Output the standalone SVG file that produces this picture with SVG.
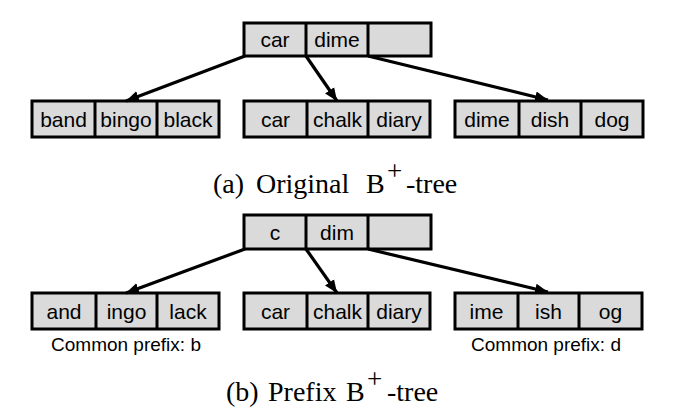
<svg xmlns="http://www.w3.org/2000/svg" width="676" height="418" viewBox="0 0 676 418">
<style>
.cell{fill:#dadada;stroke:#000;stroke-width:3}
.div{stroke:#000;stroke-width:3}
.t{font-family:"Liberation Sans",Arial,sans-serif;font-size:21px;text-anchor:middle;fill:#000}
.note{font-family:"Liberation Sans",Arial,sans-serif;font-size:19px;text-anchor:middle;fill:#000}
.cap{font-family:"Liberation Serif","DejaVu Serif",serif;font-size:28px;fill:#000}
.sup{font-family:"Liberation Serif","DejaVu Serif",serif;font-size:27px;fill:#000}
.edge{stroke:#000;stroke-width:3.2;fill:none;marker-end:url(#ah)}
</style>
<defs>
<marker id="ah" markerUnits="userSpaceOnUse" markerWidth="14" markerHeight="14" viewBox="0 0 14 14" refX="13" refY="7" orient="auto">
<path d="M0,1.5 L13,7 L0,12.5 z" fill="#000"/>
</marker>
</defs>
<rect width="676" height="418" fill="#fff"/>

<!-- Top tree (a) -->
<g id="rootA">
<rect class="cell" x="244" y="23" width="187" height="33"/>
<line class="div" x1="306" y1="23" x2="306" y2="56"/>
<line class="div" x1="368" y1="23" x2="368" y2="56"/>
<text class="t" x="275" y="47">car</text>
<text class="t" x="337" y="47">dime</text>
</g>
<g id="leafA1">
<rect class="cell" x="32" y="101" width="187" height="36"/>
<line class="div" x1="95" y1="101" x2="95" y2="137"/>
<line class="div" x1="157" y1="101" x2="157" y2="137"/>
<text class="t" x="63.5" y="127">band</text>
<text class="t" x="126" y="127">bingo</text>
<text class="t" x="188" y="127">black</text>
</g>
<g id="leafA2">
<rect class="cell" x="244" y="101" width="186" height="36"/>
<line class="div" x1="307" y1="101" x2="307" y2="137"/>
<line class="div" x1="368" y1="101" x2="368" y2="137"/>
<text class="t" x="275.5" y="127">car</text>
<text class="t" x="337.5" y="127">chalk</text>
<text class="t" x="399" y="127">diary</text>
</g>
<g id="leafA3">
<rect class="cell" x="455" y="101" width="188" height="36"/>
<line class="div" x1="519" y1="101" x2="519" y2="137"/>
<line class="div" x1="581" y1="101" x2="581" y2="137"/>
<text class="t" x="487" y="127">dime</text>
<text class="t" x="550" y="127">dish</text>
<text class="t" x="612" y="127">dog</text>
</g>
<g id="captionA">
<text class="cap" y="193"><tspan x="213">(a)</tspan><tspan x="256">Original</tspan><tspan x="366">B</tspan></text>
<text class="sup" x="387" y="180">+</text>
<text class="cap" x="406" y="193">-tree</text>
</g>

<!-- Bottom tree (b) -->
<g id="rootB">
<rect class="cell" x="244" y="215" width="187" height="34"/>
<line class="div" x1="306" y1="215" x2="306" y2="249"/>
<line class="div" x1="368" y1="215" x2="368" y2="249"/>
<text class="t" x="275" y="240">c</text>
<text class="t" x="337" y="240">dim</text>
</g>
<g id="leafB1">
<rect class="cell" x="32" y="293" width="187" height="36"/>
<line class="div" x1="96" y1="293" x2="96" y2="329"/>
<line class="div" x1="157" y1="293" x2="157" y2="329"/>
<text class="t" x="64" y="319">and</text>
<text class="t" x="126.5" y="319">ingo</text>
<text class="t" x="188" y="319">lack</text>
<text class="note" x="126" y="351">Common prefix: b</text>
</g>
<g id="leafB2">
<rect class="cell" x="244" y="293" width="186" height="36"/>
<line class="div" x1="307" y1="293" x2="307" y2="329"/>
<line class="div" x1="368" y1="293" x2="368" y2="329"/>
<text class="t" x="275.5" y="319">car</text>
<text class="t" x="337.5" y="319">chalk</text>
<text class="t" x="399" y="319">diary</text>
</g>
<g id="leafB3">
<rect class="cell" x="455" y="293" width="187" height="36"/>
<line class="div" x1="518" y1="293" x2="518" y2="329"/>
<line class="div" x1="579" y1="293" x2="579" y2="329"/>
<text class="t" x="486.5" y="319">ime</text>
<text class="t" x="548.5" y="319">ish</text>
<text class="t" x="610.5" y="319">og</text>
<text class="note" x="546" y="351">Common prefix: d</text>
</g>
<g id="captionB">
<text class="cap" y="401"><tspan x="226">(b)</tspan><tspan x="268">Prefix</tspan><tspan x="346">B</tspan></text>
<text class="sup" x="367" y="388">+</text>
<text class="cap" x="387" y="401">-tree</text>
</g>

<g id="connectors">
<line class="edge" x1="245" y1="56" x2="126" y2="101"/>
<line class="edge" x1="306" y1="56" x2="337" y2="101"/>
<line class="edge" x1="368" y1="56" x2="548" y2="100"/>
<line class="edge" x1="245" y1="249" x2="126" y2="293"/>
<line class="edge" x1="306" y1="249" x2="337" y2="293"/>
<line class="edge" x1="368" y1="249" x2="548" y2="292"/>
</g>
</svg>
